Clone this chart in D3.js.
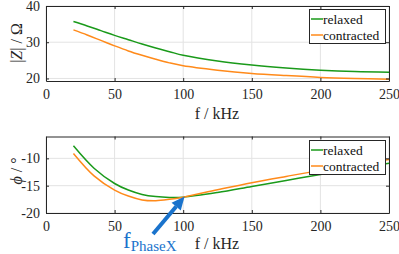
<!DOCTYPE html>
<html><head><meta charset="utf-8">
<script src="https://cdn.jsdelivr.net/npm/d3@7"></script>
<style>body{margin:0;background:#fff}svg{display:block}</style>
</head><body><svg id="c" width="399" height="254"></svg>
<script>
const freqZ = [20,30,40,50,60,70,80,90,100,125,150,175,200,225,250];
const zRelaxed = [35.7,34.5,33.2,31.9,30.7,29.5,28.4,27.4,26.4,24.8,23.7,22.9,22.3,21.9,21.7];
const zContracted = [33.4,32.0,30.5,29.0,27.6,26.4,25.3,24.3,23.5,22.3,21.4,20.8,20.3,20.0,19.8];
const freqP = [20,35,50,60,70,80,90,100,125,150,175,200,225,250];
const pRelaxed = [-7.7,-11.8,-14.6,-15.8,-16.6,-17.0,-17.15,-17.1,-16.25,-15.15,-14.05,-12.95,-11.9,-10.9];
const pContracted = [-9.1,-13.2,-15.8,-16.9,-17.6,-17.75,-17.5,-17.1,-15.75,-14.45,-13.3,-12.2,-11.2,-10.2];
const xTicks = [0,50,100,150,200,250];
const zTicks = [20,30,40];
const pTicks = [-20,-15,-10];
const seriesNames = ["relaxed","contracted"];
const colors = ["#1a9a1a","#ff8a1a"];

const svg = d3.select("#c");
const axisCol = "#262626";
const x = d3.scaleLinear().domain([0,250]).range([46,389]);
const FF = "'Liberation Serif', 'Times New Roman', Times, serif";

function panel(yDomain, yRange, yTicks, xs, ys, legTop, xLabelY){
  const y = d3.scaleLinear().domain(yDomain).range(yRange);
  const g = svg.append("g");
  const [yb, yt] = yRange;
  g.selectAll(".gx").data(xTicks).join("line").attr("x1",d=>x(d)).attr("x2",d=>x(d)).attr("y1",yt).attr("y2",yb).attr("stroke","#e3e3e3").attr("stroke-width",1);
  g.selectAll(".gy").data(yTicks).join("line").attr("x1",46).attr("x2",389).attr("y1",d=>y(d)).attr("y2",d=>y(d)).attr("stroke","#e3e3e3").attr("stroke-width",1);
  const line = d3.line().x((d,i)=>x(xs[i])).y(d=>y(d)).curve(d3.curveCatmullRom.alpha(0.5));
  ys.forEach((arr,k)=>{
    g.append("path").attr("d",line(arr)).attr("fill","none").attr("stroke",colors[k]).attr("stroke-width",1.5);
  });
  const xa = g.append("g").attr("transform",`translate(0,${yb})`).call(d3.axisBottom(x).tickValues(xTicks).tickSizeInner(-3).tickSizeOuter(0).tickPadding(8));
  const xt = g.append("g").attr("transform",`translate(0,${yt})`).call(d3.axisTop(x).tickValues(xTicks).tickSizeInner(-3).tickSizeOuter(0).tickFormat(""));
  const ya = g.append("g").attr("transform",`translate(46,0)`).call(d3.axisLeft(y).tickValues(yTicks).tickSizeInner(-3).tickSizeOuter(0).tickPadding(6));
  const yr = g.append("g").attr("transform",`translate(389,0)`).call(d3.axisRight(y).tickValues(yTicks).tickSizeInner(-3).tickSizeOuter(0).tickFormat(""));
  [xa,xt,ya,yr].forEach(a=>{
    a.attr("font-family",FF);
    a.select(".domain").attr("stroke",axisCol).attr("stroke-width",1);
    a.selectAll(".tick line").attr("stroke",axisCol);
    a.selectAll("text").attr("fill",axisCol).attr("font-size",14);
  });
  ya.selectAll("text").text(d=>d<0?"-"+Math.abs(d):d);
  const lg = g.append("g");
  lg.append("rect").attr("x",309.5).attr("y",legTop+0.5).attr("width",76).attr("height",34).attr("fill","#fff").attr("stroke",axisCol).attr("stroke-width",1);
  seriesNames.forEach((n,k)=>{
    const cy = legTop + 10 + k*16;
    lg.append("line").attr("x1",311).attr("x2",323).attr("y1",cy).attr("y2",cy).attr("stroke",colors[k]).attr("stroke-width",1.5);
    lg.append("text").attr("x",323).attr("y",cy+4.5).text(n).attr("fill","#111").attr("font-family",FF).attr("font-size",13.5);
  });
  g.append("text").attr("x",217).attr("y",xLabelY).attr("text-anchor","middle").attr("fill",axisCol).attr("font-family",FF).attr("font-size",16).text("f / kHz");
  return {y, g};
}

const topPanel = panel([19.3,40],[81,6],zTicks,freqZ,[zRelaxed,zContracted],9,118.5);
const botPanel = panel([-20,-6],[213,136.5],pTicks,freqP,[pRelaxed,pContracted],140,249);

const yl1 = svg.append("text").attr("transform","translate(21.5,43) rotate(-90)").attr("text-anchor","middle").attr("fill",axisCol).attr("font-family",FF).attr("font-size",16);
yl1.append("tspan").text("|");
yl1.append("tspan").attr("font-style","italic").text("Z");
yl1.append("tspan").text("| / Ω");
const yl2 = svg.append("text").attr("transform","translate(21.5,171) rotate(-90)").attr("text-anchor","middle").attr("fill",axisCol).attr("font-family",FF).attr("font-size",16);
yl2.append("tspan").attr("font-style","italic").text("ϕ");
yl2.append("tspan").text(" / °");

const blue = "#1a73cc";
const tip = [x(101), botPanel.y(-17.0)];
const tail = [153, 234];
const ang = Math.atan2(tip[1]-tail[1], tip[0]-tail[0]);
const hl = 13, hw = 6;
const base = [tip[0]-hl*Math.cos(ang), tip[1]-hl*Math.sin(ang)];
svg.append("line").attr("x1",tail[0]).attr("y1",tail[1]).attr("x2",base[0]).attr("y2",base[1]).attr("stroke",blue).attr("stroke-width",4);
svg.append("polygon").attr("points",[
  tip,
  [base[0]+hw*Math.sin(ang), base[1]-hw*Math.cos(ang)],
  [base[0]-hw*Math.sin(ang), base[1]+hw*Math.cos(ang)]
].map(p=>p.join(",")).join(" ")).attr("fill",blue);
const ann = svg.append("text").attr("x",123).attr("y",248).attr("fill",blue).attr("font-family",FF);
ann.append("tspan").attr("font-size",23).text("f");
ann.append("tspan").attr("dy",3).attr("font-size",15).text("PhaseX");
</script></body></html>
